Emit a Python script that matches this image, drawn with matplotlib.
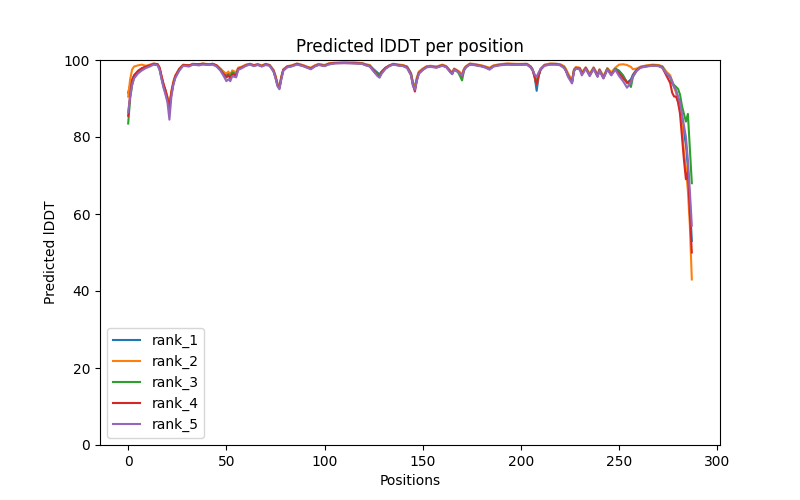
import matplotlib
matplotlib.use("Agg")
import matplotlib.pyplot as plt

pos = [0, 1, 2, 3, 5, 7, 9, 11, 13, 15,
       16, 17, 18, 19, 20, 21, 22, 23, 24, 26,
       28, 31, 33, 36, 38, 41, 43, 45, 47, 49,
       50, 51, 52, 53, 55, 56, 58, 60, 62, 64,
       66, 68, 70, 72, 74, 75, 76, 77, 78, 79,
       81, 83, 86, 89, 91, 93, 95, 97, 100, 102,
       105, 110, 115, 119, 121, 123, 125, 127, 128, 129,
       131, 133, 135, 138, 140, 142, 144, 145, 146, 147,
       148, 150, 152, 154, 157, 160, 162, 164, 165, 166,
       168, 169, 170, 171, 172, 174, 177, 180, 182, 184,
       186, 189, 193, 198, 203, 205, 206, 207, 208, 209,
       210, 212, 215, 218, 220, 222, 223, 224, 226, 227,
       228, 230, 231, 233, 235, 237, 239, 240, 242, 244,
       246, 248, 250, 252, 254, 256, 257, 259, 261, 264,
       267, 270, 272, 274, 276, 277, 278, 279, 280, 281,
       282, 283, 284, 285, 286, 287]

rank_1 = [91.5, 93.5, 95, 96, 97, 97.8, 98.2, 98.6, 99, 98.8,
          97.8, 95.5, 93.5, 92, 90, 88, 91.5, 94, 95.8, 97.5,
          98.7, 98.5, 99, 98.8, 99, 98.9, 99, 98.6, 97.6, 96.5,
          96, 96.8, 96.2, 97, 96.5, 97.8, 98.2, 98.7, 99, 98.6,
          98.9, 98.5, 98.9, 98.7, 97.3, 95.8, 93.8, 93, 95.5, 97.5,
          98.3, 98.5, 99, 98.6, 98.2, 97.9, 98.5, 98.9, 98.6, 99,
          99.2, 99.3, 99.3, 99.2, 98.8, 98.6, 97.6, 96.7, 96.3, 97,
          98, 98.6, 99, 98.7, 98.6, 98.3, 96.6, 94.2, 93, 95.2,
          96.8, 97.6, 98.3, 98.4, 98.2, 98.7, 98.3, 97.1, 96.6, 97.7,
          97.1, 96.6, 96.2, 97.6, 98.3, 99, 98.8, 98.5, 98.2, 97.8,
          98.5, 98.8, 99, 98.9, 99, 98.3, 97.5, 95.5, 92, 95.8,
          97.5, 98.7, 99, 99, 98.8, 98.2, 97.2, 96, 94.3, 97.4,
          98, 97.8, 96.5, 98, 96.2, 98, 96, 97.5, 95.5, 97.8,
          96.3, 97.8, 97.2, 96, 94, 95, 96.2, 97.6, 98.2, 98.5,
          98.7, 98.6, 98.3, 96.5, 95.5, 94, 93, 92, 90, 88.5,
          85, 81, 78, 72, 63, 53]

rank_2 = [90.5, 95, 97.5, 98.3, 98.6, 98.8, 98.5, 98.8, 99.1, 98.9,
          98, 95.8, 93.5, 92, 90.5, 88.5, 92, 94.5, 96, 97.8,
          98.8, 98.6, 99, 98.9, 99.1, 98.9, 99, 98.6, 97.8, 96.8,
          96.5, 97, 96, 97.3, 96.8, 98, 98.3, 98.8, 99, 98.7,
          98.9, 98.6, 99, 98.7, 97.5, 96, 94, 93.3, 95.8, 97.6,
          98.4, 98.6, 99.1, 98.7, 98.3, 98, 98.6, 99, 98.7, 99.1,
          99.3, 99.3, 99.3, 99.2, 98.9, 98.7, 97.3, 96.2, 95.8, 96.6,
          97.8, 98.6, 99, 98.8, 98.7, 98.2, 96.5, 94, 92.6, 95.5,
          97, 97.8, 98.4, 98.5, 98.3, 98.8, 98.4, 97.2, 96.8, 97.8,
          97.2, 96.8, 96.3, 97.8, 98.4, 99.1, 98.9, 98.6, 98.3, 98,
          98.6, 98.9, 99.1, 99, 99, 98.3, 97.5, 96, 93.5, 96.3,
          97.8, 98.8, 99.1, 99, 98.9, 98.4, 97.6, 96.5, 94.8, 97.6,
          98.2, 98, 96.8, 98.1, 96.4, 98.1, 96.3, 97.6, 95.8, 97.9,
          96.8, 98, 98.8, 98.9, 98.7, 98.2, 97.6, 97.8, 98.3, 98.6,
          98.8, 98.7, 98.4, 97, 96, 94.5, 93, 91.5, 89, 87,
          83, 76, 72, 66, 57, 43]

rank_3 = [83.5, 90, 93.5, 95.5, 96.8, 97.7, 98.1, 98.5, 98.9, 98.8,
          97.6, 95.2, 93, 91.5, 89.5, 87.5, 91, 93.8, 95.6, 97.5,
          98.6, 98.5, 98.9, 98.8, 99, 98.8, 98.9, 98.5, 97.5, 96,
          95.5, 96.3, 95.8, 96.8, 96.2, 97.7, 98.1, 98.6, 98.9, 98.5,
          98.8, 98.4, 98.8, 98.6, 97.1, 95.5, 93.5, 92.8, 95.3, 97.4,
          98.2, 98.4, 98.9, 98.5, 98.1, 97.7, 98.4, 98.8, 98.5, 98.9,
          99.2, 99.3, 99.2, 99.1, 98.7, 98.5, 97.3, 96.3, 95.8, 96.8,
          97.9, 98.5, 98.9, 98.6, 98.5, 98.2, 96.3, 93.6, 92.4, 95,
          96.6, 97.5, 98.2, 98.3, 98.1, 98.6, 98.2, 97, 96.5, 97.6,
          96.8, 95.8, 94.7, 97.3, 98.2, 98.9, 98.7, 98.4, 98.1, 97.7,
          98.4, 98.7, 98.9, 98.8, 98.9, 98.2, 97.4, 95.8, 94, 96.2,
          97.6, 98.6, 98.9, 98.9, 98.7, 98.1, 97.2, 96, 94.2, 97.3,
          97.9, 97.7, 96.4, 97.9, 96, 97.9, 95.8, 97.4, 95.4, 97.7,
          96.2, 97.7, 97, 95.8, 94.3, 93, 95.6, 97.4, 98.1, 98.4,
          98.6, 98.5, 98.2, 96.5, 95.5, 94, 93.5, 93, 92.5, 91,
          88, 86, 84, 86, 77, 68]

rank_4 = [85.5, 91, 94.5, 96, 97.2, 97.9, 98.3, 98.6, 99, 98.9,
          98, 95.8, 93.8, 92.2, 90, 87.5, 91.5, 94, 95.8, 97.6,
          98.7, 98.6, 98.9, 98.9, 99, 98.8, 99, 98.6, 97.4, 96,
          95.5, 96, 95.2, 96.3, 96, 97.6, 98.1, 98.6, 98.9, 98.6,
          98.8, 98.4, 98.9, 98.6, 97.2, 95.6, 93.5, 92.6, 95.4, 97.4,
          98.3, 98.4, 99, 98.5, 98.1, 97.8, 98.4, 98.8, 98.5, 99,
          99.2, 99.2, 99.2, 99.1, 98.7, 98.4, 97.2, 96, 95.6, 96.7,
          97.9, 98.5, 98.9, 98.6, 98.5, 98.1, 96.2, 93.5, 91.8, 94.8,
          96.6, 97.5, 98.2, 98.3, 98.1, 98.6, 98.2, 97, 96.4, 97.6,
          97, 96.4, 95.8, 97.4, 98.2, 98.9, 98.7, 98.4, 98.1, 97.6,
          98.4, 98.7, 98.9, 98.8, 98.9, 98.1, 97.2, 95.5, 93.5, 96,
          97.5, 98.6, 98.9, 98.9, 98.7, 98, 97.1, 95.8, 94.2, 97.2,
          97.9, 97.7, 96.3, 97.9, 96, 97.8, 95.8, 97.3, 95.3, 97.6,
          96.2, 97.6, 96.5, 95.2, 94.2, 94.5, 95.8, 97.4, 98.1, 98.4,
          98.6, 98.5, 98, 96, 94, 91.5, 90.5, 90.5, 89, 86,
          80, 74, 69, 71, 60, 50]

rank_5 = [86.5, 90.5, 93.5, 95.2, 96.5, 97.3, 97.9, 98.3, 98.8, 98.6,
          97.4, 95, 92.8, 91, 89, 84.5, 90.5, 93.5, 95.3, 97.2,
          98.5, 98.3, 98.8, 98.6, 98.8, 98.7, 98.8, 98.3, 97.2, 95.5,
          94.5, 95, 94.5, 95.8, 95.5, 97.4, 97.9, 98.5, 98.8, 98.4,
          98.7, 98.3, 98.7, 98.5, 97, 95.3, 93.2, 92.4, 95, 97.2,
          98.1, 98.3, 98.8, 98.4, 98, 97.6, 98.3, 98.7, 98.4, 98.8,
          99.1, 99.2, 99.1, 99, 98.6, 98.3, 97, 95.8, 95.4, 96.4,
          97.7, 98.4, 98.8, 98.5, 98.4, 97.9, 96, 93.3, 92.3, 94.6,
          96.4, 97.4, 98.1, 98.2, 98, 98.5, 98.1, 96.8, 96.3, 97.5,
          96.9, 96.3, 95.9, 97.3, 98.1, 98.8, 98.6, 98.3, 98, 97.5,
          98.3, 98.6, 98.8, 98.7, 98.8, 98, 97.3, 96.2, 95.6, 96.8,
          97.6, 98.5, 98.8, 98.8, 98.6, 97.9, 97, 95.6, 93.9, 97,
          97.8, 97.5, 96, 97.7, 95.8, 97.7, 95.6, 97.2, 95.2, 97.5,
          96, 97.5, 95.8, 94.5, 92.8, 94.2, 95.7, 97.2, 98, 98.3,
          98.5, 98.4, 98, 96.5, 95.5, 94.5, 93, 92, 90.5, 89,
          86, 83, 80, 74, 66, 57]

ranks = {"rank_1": rank_1, "rank_2": rank_2, "rank_3": rank_3,
         "rank_4": rank_4, "rank_5": rank_5}

plt.figure(figsize=(8, 5), dpi=100)
plt.title("Predicted lDDT per position")
for name, vals in ranks.items():
    plt.plot(pos, vals, label=name)
plt.legend()
plt.ylim(0, 100)
plt.ylabel("Predicted lDDT")
plt.xlabel("Positions")
plt.savefig("out.png", dpi=100)
